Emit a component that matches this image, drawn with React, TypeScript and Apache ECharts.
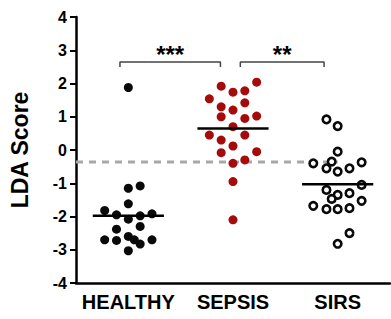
import React, { useEffect, useRef } from "react";
import * as echarts from "echarts";

const categories = ["HEALTHY", "SEPSIS", "SIRS"];
const yTicks = { min: -4, max: 4, interval: 1 };

// [horizontal jitter offset (category units), LDA score]
const healthy: number[][] = [
  [0, 1.88], [0, -1.15], [0.113, -1.08], [0, -1.62], [-0.226, -1.82],
  [-0.113, -1.95], [0, -2.08], [0.113, -1.98], [0.226, -1.92], [-0.113, -2.38],
  [0.113, -2.3], [-0.226, -2.7], [-0.113, -2.72], [0, -2.6], [0.057, -2.7],
  [0.113, -2.83], [0.226, -2.7], [0, -3.03],
];
const sepsis: number[][] = [
  [-0.113, 1.92], [0, 1.74], [0.113, 1.78], [0.226, 2.04], [-0.226, 1.54],
  [-0.113, 1.3], [0, 1.2], [0.113, 1.42], [-0.113, 1.0], [0.113, 0.95],
  [0.226, 1.02], [0, 0.7], [-0.226, 0.45], [0.113, 0.45], [-0.113, 0.3],
  [0, 0.12], [-0.113, -0.08], [0.226, -0.05], [0, -0.4], [0.113, -0.3],
  [0, -0.95], [0, -2.1],
];
const sirs: number[][] = [
  [-0.107, 0.92], [0, 0.72], [0, -0.05], [-0.233, -0.4], [-0.057, -0.35],
  [-0.107, -0.55], [0, -0.65], [0.113, -0.55], [0.229, -0.37], [0.229, -1.05],
  [-0.107, -1.2], [0, -1.35], [0.113, -1.3], [-0.057, -1.47], [-0.233, -1.68],
  [-0.107, -1.78], [0, -1.78], [0.113, -1.75], [0.229, -1.53], [0.113, -2.5],
  [0, -2.82],
];
const medians = [-1.98, 0.65, -1.03];
const threshold = -0.36;
// significance brackets: [left end, right end (category units), label]
const brackets: [number, number, string][] = [
  [0.42, 1.38, "***"],
  [1.57, 2.37, "**"],
];
const bracketLevel = 2.65;

const FONT = "'Liberation Sans', Arial, Helvetica, sans-serif";

export default function App() {
  const ref = useRef<HTMLDivElement>(null);
  useEffect(() => {
    if (!ref.current) return;
    const chart = echarts.init(ref.current, undefined, { renderer: "svg" });
    const center = (i: number) => i + 0.5;
    const toPts = (arr: number[][], i: number) => arr.map(([o, v]) => [center(i) + o, v]);

    const series: any[] = [];
    series.push({
      type: "line",
      xAxisIndex: 1,
      data: [[0, threshold], [center(2), threshold]],
      symbol: "none",
      lineStyle: { color: "#a8a8a8", width: 3, type: [7, 6] },
      z: 1,
    });
    series.push({
      type: "scatter",
      xAxisIndex: 1,
      data: toPts(healthy, 0),
      symbol: "circle",
      symbolSize: 9,
      itemStyle: { color: "#0a0a0a", opacity: 1 },
      z: 3,
    });
    series.push({
      type: "scatter",
      xAxisIndex: 1,
      data: toPts(sepsis, 1),
      symbol: "circle",
      symbolSize: 9,
      itemStyle: { color: "#a50b0b", opacity: 1 },
      z: 3,
    });
    series.push({
      type: "scatter",
      xAxisIndex: 1,
      data: toPts(sirs, 2),
      symbol: "circle",
      symbolSize: 7.5,
      itemStyle: { color: "#ffffff", borderColor: "#0a0a0a", borderWidth: 2.6, opacity: 1 },
      z: 3,
    });
    medians.forEach((m, i) => {
      series.push({
        type: "line",
        xAxisIndex: 1,
        data: [[center(i) - 0.34, m], [center(i) + 0.34, m]],
        symbol: "none",
        lineStyle: { color: "#000", width: 2.5 },
        z: 4,
      });
    });
    brackets.forEach(([x0, x1, label]) => {
      series.push({
        type: "line",
        xAxisIndex: 1,
        data: [[x0, bracketLevel - 0.15], [x0, bracketLevel], [x1, bracketLevel], [x1, bracketLevel - 0.15]],
        symbol: "none",
        lineStyle: { color: "#444", width: 1.5 },
        z: 2,
      });
      series.push({
        type: "scatter",
        xAxisIndex: 1,
        data: [[(x0 + x1) / 2, bracketLevel + 0.22]],
        symbolSize: 0,
        itemStyle: { opacity: 1 },
        label: {
          show: true,
          formatter: label,
          position: "inside",
          color: "#000",
          opacity: 1,
          fontSize: 24,
          fontWeight: "bold",
          fontFamily: FONT,
        },
        z: 5,
      });
    });

    chart.setOption({
      animation: false,
      grid: { left: 73, right: 1, top: 17, bottom: 36 },
      xAxis: [
        {
          type: "category",
          data: categories,
          axisLine: { onZero: false, lineStyle: { color: "#000", width: 2.5 } },
          axisTick: { alignWithLabel: true, interval: 0, length: 6, lineStyle: { color: "#000", width: 2 } },
          axisLabel: { interval: 0, color: "#000", fontSize: 20, fontWeight: "bold", fontFamily: FONT, margin: 9 },
          splitLine: { show: false },
        },
        { type: "value", min: 0, max: 3, show: false },
      ],
      yAxis: {
        type: "value",
        min: yTicks.min,
        max: yTicks.max,
        interval: yTicks.interval,
        name: "LDA Score",
        nameLocation: "middle",
        nameRotate: 90,
        nameGap: 45,
        nameTextStyle: { color: "#000", fontSize: 23, fontWeight: "bold", fontFamily: FONT },
        axisLine: { show: true, lineStyle: { color: "#000", width: 2.5 } },
        axisTick: { show: true, length: 6, lineStyle: { color: "#000", width: 2 } },
        axisLabel: { color: "#000", fontSize: 16, fontWeight: "bold", fontFamily: FONT, margin: 9 },
        splitLine: { show: false },
      },
      series,
    });
    return () => chart.dispose();
  }, []);
  return (
    <div
      ref={ref}
      style={{ position: "fixed", left: 0, top: 0, width: 391, height: 319, background: "#fff" }}
    />
  );
}
